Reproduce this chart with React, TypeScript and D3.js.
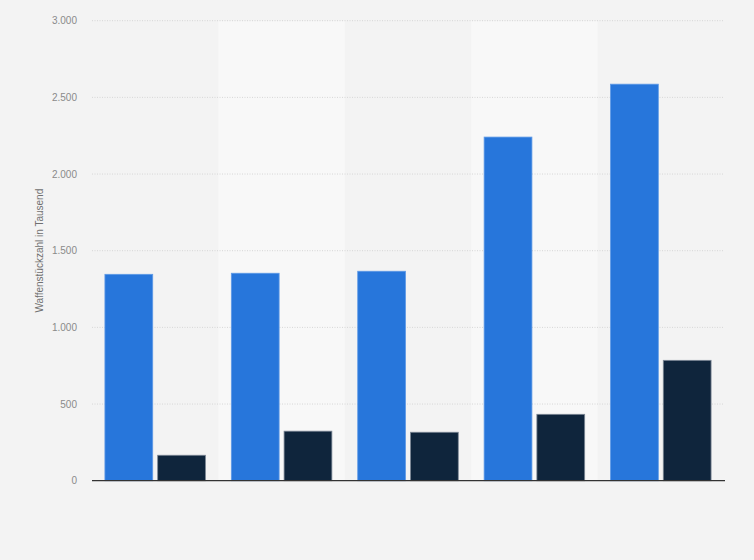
import React from "react";
import * as d3 from "d3";

const categories = ["1", "2", "3", "4", "5"];
const seriesA = [1346, 1353, 1366, 2241, 2586];
const seriesB = [166, 323, 316, 433, 785];
const yTicks = [0, 500, 1000, 1500, 2000, 2500, 3000];
const yTitle = "Waffenstückzahl in Tausend";

const W = 754;
const H = 560;
const M = { left: 92, right: 30, top: 20.7, bottom: 79.3 };

export default function App() {
  const x = d3
    .scaleBand<string>()
    .domain(categories)
    .range([M.left, W - M.right])
    .paddingInner(0)
    .paddingOuter(0);
  const y = d3.scaleLinear().domain([0, 3000]).range([H - M.bottom, M.top]);
  const bw = x.bandwidth();
  const inner = d3
    .scaleBand<string>()
    .domain(["a", "b"])
    .range([0, bw])
    .paddingInner(0.094)
    .paddingOuter(0.245);
  const fmt = (v: number) => d3.format(",")(v).replace(/,/g, ".");

  return (
    <svg
      width={W}
      height={H}
      style={{ position: "absolute", left: 0, top: 0, fontFamily: "Arial, 'Liberation Sans', sans-serif" }}
    >
      <rect x={0} y={0} width={W} height={H} fill="#f3f3f3" />
      {categories.map((c, i) =>
        i % 2 === 1 ? (
          <rect key={"band" + c} x={x(c)} y={M.top} width={bw} height={H - M.bottom - M.top} fill="#f8f8f8" />
        ) : null
      )}
      {yTicks.map((t) => (
        <g key={"t" + t}>
          {t > 0 && (
            <line
              x1={M.left}
              x2={W - M.right}
              y1={y(t)}
              y2={y(t)}
              stroke="#d6d6d6"
              strokeWidth={1}
              strokeDasharray="1 1.5"
            />
          )}
          <text x={77} y={y(t)} dy="0.35em" textAnchor="end" fontSize={10} fill="#8a8a8a">
            {fmt(t)}
          </text>
        </g>
      ))}
      <text
        transform={`translate(43,${(M.top + H - M.bottom) / 2}) rotate(-90)`}
        textAnchor="middle"
        fontSize={10}
        fill="#707070"
      >
        {yTitle}
      </text>
      {categories.map((c, i) => (
        <g key={"g" + c} transform={`translate(${x(c)},0)`}>
          <rect
            x={inner("a")}
            y={y(seriesA[i])}
            width={inner.bandwidth()}
            height={y(0) - y(seriesA[i])}
            fill="#2776db"
            stroke="#5f9ae6"
            strokeWidth={0.8}
          />
          <rect
            x={inner("b")}
            y={y(seriesB[i])}
            width={inner.bandwidth()}
            height={y(0) - y(seriesB[i])}
            fill="#0f253c"
            stroke="#7d8896"
            strokeWidth={0.8}
          />
        </g>
      ))}
      <line x1={M.left} x2={W - M.right + 1} y1={y(0)} y2={y(0)} stroke="#333" strokeWidth={1.3} />
    </svg>
  );
}
